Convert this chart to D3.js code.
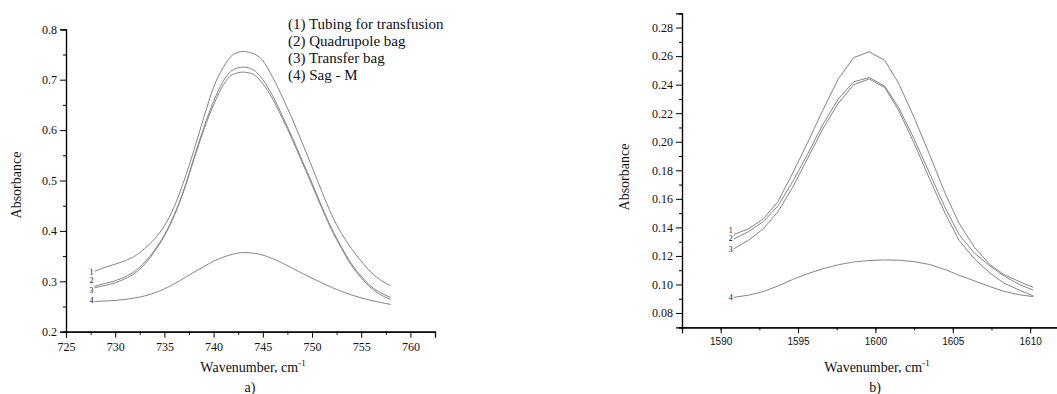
<!DOCTYPE html>
<html><head><meta charset="utf-8">
<script src="https://cdn.jsdelivr.net/npm/d3@7"></script>
<style>
html,body{margin:0;padding:0;background:#fff;}
svg{display:block;}
text{fill:#111;}
</style></head>
<body>
<svg id="chart" width="1057" height="394"></svg>
<script>
// ---------- Data: panel a) ----------
const waveA = [727.9,729,730,731,732,733,734,735,736,737,738,739,740,741,742,743,744,745,746,747,748,749,750,751,752,753,754,755,756,757,758];
const tubingA = [0.320,0.328,0.334,0.341,0.350,0.365,0.384,0.410,0.448,0.500,0.560,0.625,0.685,0.725,0.750,0.756,0.752,0.738,0.705,0.665,0.622,0.575,0.527,0.478,0.432,0.395,0.365,0.340,0.318,0.302,0.291];
const quadA   = [0.290,0.296,0.301,0.309,0.320,0.338,0.362,0.392,0.432,0.483,0.545,0.605,0.657,0.698,0.720,0.725,0.720,0.700,0.668,0.628,0.585,0.540,0.495,0.448,0.405,0.368,0.335,0.310,0.290,0.277,0.268];
const transA  = [0.287,0.292,0.297,0.305,0.316,0.334,0.359,0.390,0.430,0.481,0.542,0.600,0.650,0.690,0.711,0.715,0.711,0.692,0.662,0.623,0.581,0.536,0.491,0.445,0.402,0.365,0.332,0.307,0.287,0.273,0.264];
const sagA    = [0.260,0.261,0.262,0.264,0.267,0.271,0.277,0.285,0.295,0.306,0.318,0.329,0.340,0.348,0.354,0.357,0.356,0.352,0.345,0.336,0.326,0.316,0.306,0.297,0.288,0.280,0.273,0.267,0.262,0.258,0.254];
const xTicksA = [725,730,735,740,745,750,755,760];
const yTicksA = [0.2,0.3,0.4,0.5,0.6,0.7,0.8];

// ---------- Data: panel b) ----------
const waveB = [1590.85,1591.8,1592.75,1593.7,1594.65,1595.6,1596.6,1597.6,1598.6,1599.6,1600.6,1601.5,1602.5,1603.5,1604.5,1605.4,1606.4,1607.4,1608.3,1609.3,1610.2];
const tubingB = [0.135,0.139,0.146,0.158,0.178,0.199,0.222,0.244,0.259,0.263,0.257,0.241,0.217,0.191,0.164,0.143,0.126,0.114,0.107,0.102,0.098];
const quadB   = [0.132,0.137,0.144,0.155,0.172,0.191,0.212,0.230,0.242,0.245,0.239,0.224,0.202,0.178,0.154,0.135,0.122,0.113,0.106,0.100,0.096];
const transB  = [0.125,0.131,0.139,0.151,0.168,0.188,0.209,0.227,0.240,0.244,0.238,0.222,0.199,0.174,0.150,0.131,0.118,0.108,0.101,0.096,0.092];
const sagB    = [0.091,0.0925,0.095,0.099,0.1035,0.1075,0.111,0.1138,0.1158,0.1168,0.1172,0.1170,0.1160,0.1140,0.1105,0.1065,0.1025,0.0985,0.0952,0.0928,0.0915];
const xTicksB = [1590,1595,1600,1605,1610];
const yTicksB = [0.08,0.10,0.12,0.14,0.16,0.18,0.20,0.22,0.24,0.26,0.28];

const curveNames = ["1","2","3","4"];
const legendLabels = ["(1) Tubing for transfusion","(2) Quadrupole bag","(3) Transfer bag","(4) Sag - M"];

const svg = d3.select("#chart");
const SERIF = "'Liberation Serif','Times New Roman',serif";
const SANS = "'Liberation Sans',Arial,sans-serif";
const lineColor = "#858585";

function panel(cfg){
  const g = svg.append("g");
  const x = d3.scaleLinear().domain(cfg.xDomain).range(cfg.xRange);
  const y = d3.scaleLinear().domain(cfg.yDomain).range(cfg.yRange);

  const xMinor = d3.axisBottom(x).tickValues(cfg.xMinor).tickSize(3).tickFormat("");
  const yMinor = d3.axisLeft(y).tickValues(cfg.yMinor).tickSize(3).tickFormat("");
  g.append("g").attr("transform",`translate(0,${cfg.yRange[0]})`).call(xMinor);
  g.append("g").attr("transform",`translate(${cfg.xRange[0]},0)`).call(yMinor);

  const xAx = d3.axisBottom(x).tickValues(cfg.xTicks).tickSize(6).tickPadding(5).tickFormat(d3.format("d"));
  const yAx = d3.axisLeft(y).tickValues(cfg.yTicks).tickSize(6).tickPadding(3).tickFormat(cfg.yFormat);
  const gx = g.append("g").attr("transform",`translate(0,${cfg.yRange[0]})`).call(xAx);
  const gy = g.append("g").attr("transform",`translate(${cfg.xRange[0]},0)`).call(yAx);
  gx.selectAll("text").style("font-family",cfg.xFont).style("font-size",cfg.xFontSize+"px");
  gy.selectAll("text").style("font-family",SERIF).style("font-size","12px");
  g.selectAll(".domain").attr("stroke","#000").attr("stroke-width",1.2);
  g.selectAll(".tick line").attr("stroke","#000");

  const line = d3.line().x((d,i)=>x(cfg.wave[i])).y(d=>y(d)).curve(cfg.curve);
  cfg.series.forEach((s,k)=>{
    g.append("path").datum(s).attr("d",line)
      .attr("fill","none").attr("stroke",lineColor).attr("stroke-width",1);
    g.append("text")
      .attr("x", x(cfg.wave[0]) - 1)
      .attr("y", y(s[0]) + cfg.labelDy[k])
      .attr("text-anchor","end")
      .style("font-family",SERIF).style("font-size","8px")
      .text(curveNames[k]);
  });

  g.append("text").attr("x",cfg.titleCenterX).attr("y",372)
    .attr("text-anchor","middle").style("font-family",SERIF).style("font-size","14px")
    .html('Wavenumber, cm<tspan dy="-6" font-size="9">-1</tspan>');
  g.append("text").attr("x",cfg.panelLabelX).attr("y",392)
    .attr("text-anchor","middle").style("font-family",SERIF).style("font-size","14px")
    .text(cfg.panelLabel);
  g.append("text")
    .attr("transform",`translate(${cfg.yTitleX},${cfg.yTitleY}) rotate(-90)`)
    .attr("text-anchor","middle").style("font-family",SERIF).style("font-size","14px")
    .text("Absorbance");
  return {x,y,g};
}

const range = (a,b,s)=>d3.range(Math.round((b-a)/s)+1).map(i=>+(a+i*s).toFixed(4));

const A = panel({
  wave: waveA, series:[tubingA,quadA,transA,sagA], curve: d3.curveMonotoneX,
  xDomain:[725,762.5], xRange:[66,435],
  yDomain:[0.2,0.8], yRange:[331.7,29.3],
  xTicks:xTicksA, yTicks:yTicksA,
  xMinor: range(727.5,760,5), yMinor: range(0.25,0.75,0.1),
  yFormat: d3.format(".1f"), xFont:SERIF, xFontSize:12,
  labelDy:[3.5,-3,5,1.5],
  titleCenterX:253, panelLabelX:250, panelLabel:"a)",
  yTitleX:21, yTitleY:185
});
A.g.selectAll(".legend").data(legendLabels).enter().append("text")
  .attr("x",288).attr("y",(d,i)=>28.5+i*17.3)
  .style("font-family",SERIF).style("font-size","15px")
  .text(d=>d);

panel({
  wave: waveB, series:[tubingB,quadB,transB,sagB], curve: d3.curveLinear,
  xDomain:[1587.5,1611.8], xRange:[682,1058],
  yDomain:[0.07,0.29], yRange:[327.3,13.3],
  xTicks:xTicksB, yTicks:yTicksB,
  xMinor: range(1587.5,1610,2.5), yMinor: range(0.07,0.29,0.02),
  yFormat: d3.format(".2f"), xFont:SANS, xFontSize:10,
  labelDy:[-2,2.5,3,3],
  titleCenterX:877, panelLabelX:875, panelLabel:"b)",
  yTitleX:629, yTitleY:177
});
</script>
</body></html>
